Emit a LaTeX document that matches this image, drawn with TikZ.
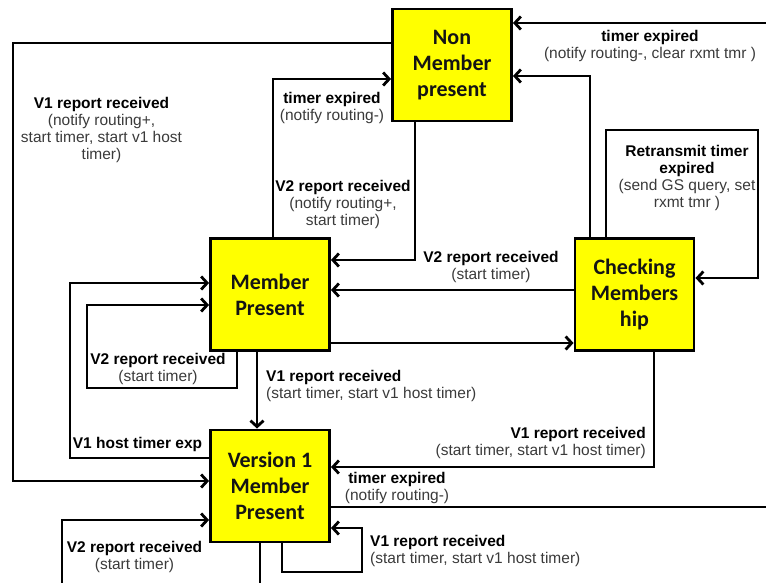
\documentclass[tikz,border=0pt]{standalone}
\usepackage{fontspec}
\setmainfont{Liberation Sans}
\newfontfamily\boxfont{Carlito}
\usetikzlibrary{arrows.meta}
\definecolor{stateyellow}{HTML}{FFFF00}
\definecolor{regtext}{HTML}{3A3A3A}
\newcommand\lblreg[1]{\textcolor{regtext}{#1}}

\begin{document}
\begin{tikzpicture}[x=1pt,y=-1pt,
  state/.style={draw=black, line width=2.9pt, fill=stateyellow,
    minimum width=119pt, minimum height=112pt, inner sep=0pt,
    align=center, text=black!92,
    font=\boxfont\bfseries\fontsize{22}{26}\selectfont},
  conn/.style={line width=2.8pt, black,
    -{Straight Barb[length=6pt,width=13pt]}},
  lbl/.style={align=center, inner sep=0pt,
    font=\fontsize{15.5}{17}\selectfont},
  lbll/.style={lbl, align=left, anchor=west},
  lblr/.style={lbl, align=right, anchor=east}]

\useasboundingbox (0,0) rectangle (766,582);
\clip (0,0) rectangle (766,582);

% states
\node[state] (nm) at (452,65)    {Non\\Member\\present};
\node[state] (mp) at (270,294.5) {Member\\Present};
\node[state] (cm) at (634.5,294.5) {Checking\\Members\\hip};
\node[state] (v1) at (270,486)   {Version 1\\Member\\Present};

% Non Member -> Version 1 (outer left loop)
\draw[conn] (nm.west |- 0,43) -- (13,43) -- (13,481) -- (v1.west |- 0,481);
% Member -> Non Member
\draw[conn] (273,0 |- mp.north) -- (273,79) -- (nm.west |- 0,79);
% Non Member -> Member
\draw[conn] (415,0 |- nm.south) -- (415,260) -- (mp.east |- 0,260);
% Version 1 -> Non Member (around the right edge)
\draw[conn] (v1.east |- 0,507) -- (780,507) -- (780,23) -- (nm.east |- 0,23);
% Checking -> Non Member
\draw[conn] (590,0 |- cm.north) -- (590,76) -- (nm.east |- 0,76);
% Checking self loop (retransmit)
\draw[conn] (606,0 |- cm.north) -- (606,130) -- (758,130) -- (758,278) -- (cm.east |- 0,278);
% Checking -> Member
\draw[conn] (cm.west |- 0,290) -- (mp.east |- 0,290);
% Member -> Checking
\draw[conn] (mp.east |- 0,343) -- (cm.west |- 0,343);
% Member -> Version 1
\draw[conn] (257,0 |- mp.south) -- (257,0 |- v1.north);
% Member self loop
\draw[conn] (237,0 |- mp.south) -- (237,388) -- (87,388) -- (87,305) -- (mp.west |- 0,305);
% Version 1 -> Member
\draw[conn] (v1.west |- 0,458) -- (70,458) -- (70,283) -- (mp.west |- 0,283);
% Checking -> Version 1
\draw[conn] (654,0 |- cm.south) -- (654,467) -- (v1.east |- 0,467);
% Version 1 self loop (right)
\draw[conn] (282,0 |- v1.south) -- (282,572) -- (362,572) -- (362,528) -- (v1.east |- 0,528);
% Version 1 self loop (bottom left)
\draw[conn] (260,0 |- v1.south) -- (260,600) -- (62,600) -- (62,520) -- (v1.west |- 0,520);

% transition labels
\node[lbl] (t1) at (101.5,130) {\textbf{V1 report received}\\\lblreg{(notify routing+,}\\\lblreg{start timer, start v1 host}\\\lblreg{timer)}};
\node[lbl] (t2) at (332,107.5) {\textbf{timer expired}\\\lblreg{(notify routing-)}};
\node[lbl] (t3) at (343,204) {\textbf{V2 report received}\\\lblreg{(notify routing+,}\\\lblreg{start timer)}};
\node[lbl] (t4) at (650,46) {\textbf{timer expired}\\\lblreg{(notify routing-, clear rxmt tmr )}};
\node[lbl] (t5) at (687,178) {\textbf{Retransmit timer}\\\textbf{expired}\\\lblreg{(send GS query, set}\\\lblreg{rxmt tmr )}};
\node[lbl] (t6) at (491,266.5) {\textbf{V2 report received}\\\lblreg{(start timer)}};
\node[lbl] (t7) at (158,368.5) {\textbf{V2 report received}\\\lblreg{(start timer)}};
\node[lbll] (t8) at (266,385.5) {\textbf{V1 report received}\\\lblreg{(start timer, start v1 host timer)}};
\node[lbl] (t9) at (137.5,444) {\textbf{V1 host timer exp}};
\node[lblr] (t10) at (646,443) {\textbf{V1 report received}\\\lblreg{(start timer, start v1 host timer)}};
\node[lbl] (t11) at (397,487.5) {\textbf{timer expired}\\\lblreg{(notify routing-)}};
\node[lbll] (t12) at (370,550.5) {\textbf{V1 report received}\\\lblreg{(start timer, start v1 host timer)}};
\node[lbl] (t13) at (134.5,556.5) {\textbf{V2 report received}\\\lblreg{(start timer)}};
\end{tikzpicture}
\end{document}
